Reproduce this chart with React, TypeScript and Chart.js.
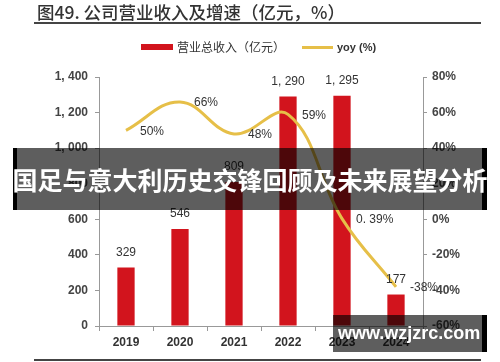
import React, { useEffect, useRef } from 'react';
import { Chart, registerables } from 'chart.js';

Chart.register(...registerables);

const years = ['2019', '2020', '2021', '2022', '2023', '2024'];
const revenue = [329, 546, 809, 1290, 1295, 177];
const yoy = [50, 66, 48, 59, 0.39, -38];
const revenueLabels = ['329', '546', '809', '1, 290', '1, 295', '177'];
const yoyLabels = ['50%', '66%', '48%', '59%', '0. 39%', '-38%'];
const titleText = '图49. 公司营业收入及增速（亿元，%）';
const revenueName = '营业总收入（亿元）';
const yoyName = 'yoy (%)';
const bannerText = '国足与意大利历史交锋回顾及未来展望分析';
const watermarkText = 'www.wzjzrc.com';

const SANS = '"Liberation Sans", Arial, "Noto Sans CJK SC", sans-serif';
const CJK = '"Noto Sans CJK SC", "Liberation Sans", sans-serif';

const fmtThousands = (v: number) =>
  v >= 1000 ? `${Math.floor(v / 1000)}, ${String(v % 1000).padStart(3, '0')}` : String(v);

const labelPlugin = {
  id: 'valueLabels',
  afterDatasetsDraw(chart: any) {
    const ctx = chart.ctx;
    ctx.save();
    ctx.fillStyle = '#333';
    ctx.font = `12px ${SANS}`;
    const barMeta = chart.getDatasetMeta(1);
    ctx.textAlign = 'center';
    ctx.textBaseline = 'middle';
    barMeta.data.forEach((el: any, i: number) => {
      ctx.fillText(revenueLabels[i], el.x, el.y - 15);
    });
    const lineMeta = chart.getDatasetMeta(0);
    ctx.textAlign = 'left';
    lineMeta.data.forEach((el: any, i: number) => {
      ctx.fillText(yoyLabels[i], el.x + 14, el.y + 1);
    });
    ctx.restore();
  },
};

export default function App() {
  const ref = useRef<HTMLCanvasElement | null>(null);

  useEffect(() => {
    if (!ref.current) return;
    const tickFont = { size: 12, weight: 'bold' as const, family: SANS };
    const chart = new Chart(ref.current, {
      type: 'bar',
      data: {
        labels: years,
        datasets: [
          {
            type: 'line' as const,
            label: yoyName,
            data: yoy,
            yAxisID: 'y1',
            borderColor: '#e6bf48',
            borderWidth: 3,
            tension: 0.4,
            pointRadius: 0,
            order: 0,
          } as any,
          {
            type: 'bar' as const,
            label: revenueName,
            data: revenue,
            yAxisID: 'y',
            backgroundColor: '#d2141d',
            barPercentage: 0.32,
            categoryPercentage: 1,
            order: 1,
          },
        ],
      },
      options: {
        responsive: false,
        animation: false,
        layout: { padding: { top: 77, left: 0, right: 0, bottom: 0 } },
        plugins: { legend: { display: false }, tooltip: { enabled: false } },
        scales: {
          x: {
            offset: true,
            grid: { display: true, drawOnChartArea: false, drawTicks: true, tickLength: 5, color: '#999', offset: true },
            border: { display: true, color: '#999' },
            ticks: { color: '#333', font: tickFont, padding: 4 },
            afterFit: (s: any) => { s.height = 36; },
          },
          y: {
            position: 'left',
            min: 0,
            max: 1400,
            grid: { drawOnChartArea: false, drawTicks: true, tickLength: 4, color: '#999' },
            border: { display: true, color: '#999' },
            ticks: { stepSize: 200, color: '#444', font: tickFont, padding: 7, callback: (v: any) => fmtThousands(Number(v)) },
            afterFit: (s: any) => { s.width = 99; },
          },
          y1: {
            position: 'right',
            min: -60,
            max: 80,
            grid: { drawOnChartArea: false, drawTicks: true, tickLength: 4, color: '#999' },
            border: { display: true, color: '#999' },
            ticks: { stepSize: 20, color: '#444', font: tickFont, padding: 5, callback: (v: any) => `${v}%` },
            afterFit: (s: any) => { s.width = 77; },
          },
        },
      },
      plugins: [labelPlugin],
    });
    return () => chart.destroy();
  }, []);

  return (
    <div style={{ position: 'absolute', left: 0, top: 0, width: 500, height: 362, background: '#fff', overflow: 'hidden' }}>
      <canvas ref={ref} width={500} height={362} style={{ position: 'absolute', left: 0, top: 0 }} />
      <div style={{ position: 'absolute', left: 37, top: 1, fontFamily: CJK, fontSize: 17.5, fontWeight: 500, color: '#333', lineHeight: '22px', whiteSpace: 'nowrap' }}>
        {titleText}
      </div>
      <div style={{ position: 'absolute', left: 34, top: 22, width: 447, height: 2, background: '#444' }} />
      <div style={{ position: 'absolute', left: 141, top: 44, width: 32, height: 6, background: '#d2141d' }} />
      <div style={{ position: 'absolute', left: 177, top: 39, fontFamily: CJK, fontSize: 12, color: '#333', lineHeight: '16px', whiteSpace: 'nowrap' }}>
        {revenueName}
      </div>
      <div style={{ position: 'absolute', left: 302, top: 46, width: 31, height: 3, background: '#e6bf48' }} />
      <div style={{ position: 'absolute', left: 337, top: 40, fontFamily: SANS, fontSize: 11, fontWeight: 'bold', color: '#333', lineHeight: '14px', whiteSpace: 'nowrap' }}>
        {yoyName}
      </div>
      <div style={{ position: 'absolute', left: 34, top: 359, width: 447, height: 2, background: '#444' }} />
      <div style={{ position: 'absolute', left: 13, top: 148, width: 474, height: 62, background: 'rgba(0,0,0,0.63)' }} />
      <div style={{ position: 'absolute', left: 13, top: 148, width: 4, height: 62, background: '#000' }} />
      <div style={{ position: 'absolute', left: 482, top: 148, width: 5, height: 62, background: '#000' }} />
      <div style={{ position: 'absolute', left: 0, top: 148, width: 500, height: 62, display: 'flex', alignItems: 'center', justifyContent: 'center', fontFamily: CJK, fontSize: 25, fontWeight: 'bold', color: '#fff', whiteSpace: 'nowrap', letterSpacing: 0 }}>
        {bannerText}
      </div>
      <div style={{ position: 'absolute', left: 333, top: 315, width: 154, height: 37, background: 'rgba(0,0,0,0.63)' }} />
      <div style={{ position: 'absolute', left: 482, top: 315, width: 5, height: 37, background: '#000' }} />
      <div style={{ position: 'absolute', left: 338, top: 315, height: 37, display: 'flex', alignItems: 'center', fontFamily: SANS, fontSize: 18, fontWeight: 'bold', color: '#fff', whiteSpace: 'nowrap' }}>
        {watermarkText}
      </div>
    </div>
  );
}
